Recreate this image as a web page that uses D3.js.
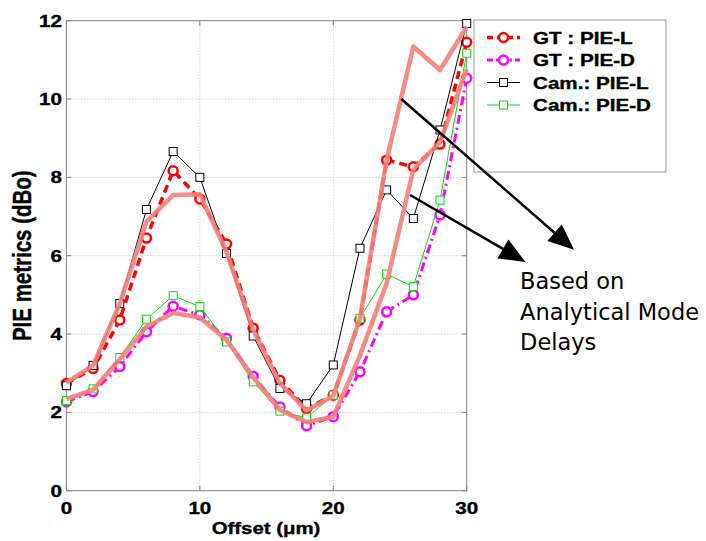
<!DOCTYPE html>
<meta charset="utf-8">
<head>
<script src="https://d3js.org/d3.v7.min.js"></script>
<style>
    body { margin: 0; background: #fff; }
    .grid line { stroke: #bdbdbd; stroke-width: 1px; stroke-dasharray: 1,2; }
    .lbl { font-family: "Liberation Sans", Arial, sans-serif; font-weight: bold; fill: #000; stroke: #000; stroke-width: 0.35px; }
    .note { font-family: "DejaVu Sans", Tahoma, sans-serif; font-size: 22.5px; fill: #000; }
</style>
</head>
<body>
<svg id="chart" width="706" height="541"></svg>

<script>
    // offsets (um) where every curve was sampled
    var offsets = [0, 2, 4, 6, 8, 10, 12, 14, 16, 18, 20, 22, 24, 26, 28, 30];

    // PIE metrics (dBo)
    var gtPieL  = [2.74, 3.12, 4.36, 6.45, 8.17, 7.45, 6.30, 4.15, 2.82, 2.10, 2.44, 4.36, 8.44, 8.27, 8.85, 11.45];
    var gtPieD  = [2.27, 2.53, 3.17, 4.06, 4.71, 4.49, 3.89, 2.92, 2.14, 1.66, 1.89, 3.04, 4.57, 5.00, 7.04, 10.53];
    var camPieL = [2.68, 3.20, 4.78, 7.18, 8.66, 8.00, 6.06, 3.95, 2.61, 2.22, 3.21, 6.19, 7.68, 6.95, 9.21, 11.93];
    var camPieD = [2.30, 2.60, 3.40, 4.38, 4.98, 4.70, 3.80, 2.78, 2.03, 1.86, 2.44, 4.40, 5.53, 5.21, 7.42, 11.17];
    // the two thick curves from analytical mode delays
    var anaPieL = [2.76, 3.20, 4.78, 6.87, 7.55, 7.57, 6.10, 4.10, 2.74, 2.05, 2.42, 4.40, 8.44, 11.34, 10.74, 11.85];
    var anaPieD = [2.34, 2.58, 3.36, 4.19, 4.54, 4.42, 3.85, 2.90, 2.06, 1.75, 1.89, 3.45, 5.30, 8.20, 8.90, 10.76];

    var xTicks = [0, 10, 20, 30];
    var yTicks = [0, 2, 4, 6, 8, 10, 12];
    var legendLabels = ["GT : PIE-L", "GT : PIE-D", "Cam.: PIE-L", "Cam.: PIE-D"];

    // annotation, in data units: arrow start -> arrow tip
    var arrowFrom = [[25.1, 10.0], [25.76, 7.55]];
    var arrowTo   = [[38.05, 6.15], [34.4, 5.84]];
    var noteLines = ["Based on", "Analytical Mode", "Delays"];
    var noteX = 34.0, noteY = [5.14, 4.36, 3.6];

    var svg = d3.select("#chart");
    var SX = 1.25; // the picture is stretched sideways, text too

    var x = d3.scaleLinear().domain([0, 30]).range([66.4, 466.7]);
    var y = d3.scaleLinear().domain([0, 12]).range([490.7, 20.7]);

    function stext(g, px, py, str, size, anchor) {
      return g.append("text")
        .attr("class", "lbl")
        .attr("transform", "translate(" + px + "," + py + ") scale(" + SX + ",1)")
        .attr("text-anchor", anchor || "start")
        .style("font-size", size + "px")
        .text(str);
    }

    // grid
    var grid = svg.append("g").attr("class", "grid");
    grid.selectAll(".gx").data(xTicks.slice(1, -1)).enter().append("line")
      .attr("x1", d => x(d)).attr("x2", d => x(d))
      .attr("y1", y(12)).attr("y2", y(0));
    grid.selectAll(".gy").data(yTicks.slice(1, -1)).enter().append("line")
      .attr("x1", x(0)).attr("x2", x(30))
      .attr("y1", d => y(d)).attr("y2", d => y(d));

    // frame and inward ticks
    svg.append("rect")
      .attr("x", x(0)).attr("y", y(12))
      .attr("width", x(30) - x(0)).attr("height", y(0) - y(12))
      .attr("fill", "none").attr("stroke", "#808080");
    var tk = svg.append("g").attr("stroke", "#808080");
    xTicks.forEach(function(t) {
      tk.append("line").attr("x1", x(t)).attr("x2", x(t)).attr("y1", y(0)).attr("y2", y(0) - 5);
      tk.append("line").attr("x1", x(t)).attr("x2", x(t)).attr("y1", y(12)).attr("y2", y(12) + 5);
    });
    yTicks.forEach(function(t) {
      tk.append("line").attr("x1", x(0)).attr("x2", x(0) + 5).attr("y1", y(t)).attr("y2", y(t));
      tk.append("line").attr("x1", x(30)).attr("x2", x(30) - 5).attr("y1", y(t)).attr("y2", y(t));
    });

    // tick labels
    var labels = svg.append("g");
    xTicks.forEach(function(t) { stext(labels, x(t), 514, t, 16.5, "middle"); });
    yTicks.forEach(function(t) { stext(labels, 62, y(t) + 6, t, 16.5, "end"); });

    // axis titles
    stext(labels, 266, 534, "Offset (\u03bcm)", 16.3, "middle");
    labels.append("text")
      .attr("class", "lbl")
      .attr("transform", "translate(31," + ((y(0) + y(12)) / 2) + ") scale(" + SX + ",1) rotate(-90)")
      .attr("text-anchor", "middle")
      .style("font-size", "20.5px")
      .text("PIE metrics (dBo)");

    var line = d3.line().x((d, i) => x(offsets[i])).y(d => y(d));

    var series = [
      { v: gtPieL,  color: "#ff0000", width: 3.5, dash: "8,5",       marker: "circle" },
      { v: gtPieD,  color: "#ff00ff", width: 3,   dash: "9,4,2,4",   marker: "circle" },
      { v: camPieL, color: "#000000", width: 1,   dash: null,        marker: "square" },
      { v: camPieD, color: "#00e000", width: 1,   dash: null,        marker: "square" }
    ];

    function marker(g, kind, cx, cy, color) {
      if (kind === "circle") {
        g.append("circle").attr("cx", cx).attr("cy", cy).attr("r", 4.5)
          .attr("fill", "#fff").attr("stroke", color).attr("stroke-width", 2.5);
      } else {
        g.append("rect").attr("x", cx - 4).attr("y", cy - 4).attr("width", 8).attr("height", 8)
          .attr("fill", "#fff").attr("stroke", color).attr("stroke-width", 1);
      }
    }

    series.forEach(function(s) {
      var g = svg.append("g");
      g.append("path").datum(s.v)
        .attr("d", line)
        .attr("fill", "none")
        .attr("stroke", s.color)
        .attr("stroke-width", s.width)
        .attr("stroke-dasharray", s.dash);
      s.v.forEach(function(d, i) { marker(g, s.marker, x(offsets[i]), y(d), s.color); });
    });

    // analytical curves on top
    [anaPieL, anaPieD].forEach(function(v) {
      svg.append("path").datum(v)
        .attr("d", line)
        .attr("fill", "none")
        .attr("stroke", "#f4807a")
        .attr("stroke-width", 4.5)
        .attr("stroke-linejoin", "round")
        .attr("opacity", 0.9);
    });

    // legend
    var lg = svg.append("g");
    lg.append("rect").attr("x", 474).attr("y", 20).attr("width", 192).attr("height", 152)
      .attr("fill", "#fff").attr("stroke", "#999");
    series.forEach(function(s, i) {
      var cy = 37.5 + i * 22.5;
      lg.append("line").attr("x1", 487).attr("x2", 520).attr("y1", cy).attr("y2", cy)
        .attr("stroke", s.color).attr("stroke-width", s.width)
        .attr("stroke-dasharray", s.dash ? (i === 0 ? "6,4" : "6,3,2,3") : null);
      marker(lg, s.marker, 503.5, cy, s.color);
      stext(lg, 533, cy + 6, legendLabels[i], 16.5, "start");
    });

    // annotation arrows
    var ann = svg.append("g");
    arrowFrom.forEach(function(f, i) {
      var x1 = x(f[0]), y1 = y(f[1]), x2 = x(arrowTo[i][0]), y2 = y(arrowTo[i][1]);
      var a = Math.atan2(y2 - y1, x2 - x1), L = 26, W = 11;
      var bx = x2 - L * Math.cos(a), by = y2 - L * Math.sin(a);
      ann.append("line").attr("x1", x1).attr("y1", y1).attr("x2", bx).attr("y2", by)
        .attr("stroke", "#000").attr("stroke-width", 2.5);
      ann.append("path")
        .attr("d", "M" + x2 + "," + y2 +
          "L" + (bx + W * Math.sin(a)) + "," + (by - W * Math.cos(a)) +
          "L" + (bx - W * Math.sin(a)) + "," + (by + W * Math.cos(a)) + "Z")
        .attr("fill", "#000");
    });
    noteLines.forEach(function(t, i) {
      ann.append("text").attr("class", "note")
        .attr("x", x(noteX)).attr("y", y(noteY[i]))
        .text(t);
    });
</script>
</body>
